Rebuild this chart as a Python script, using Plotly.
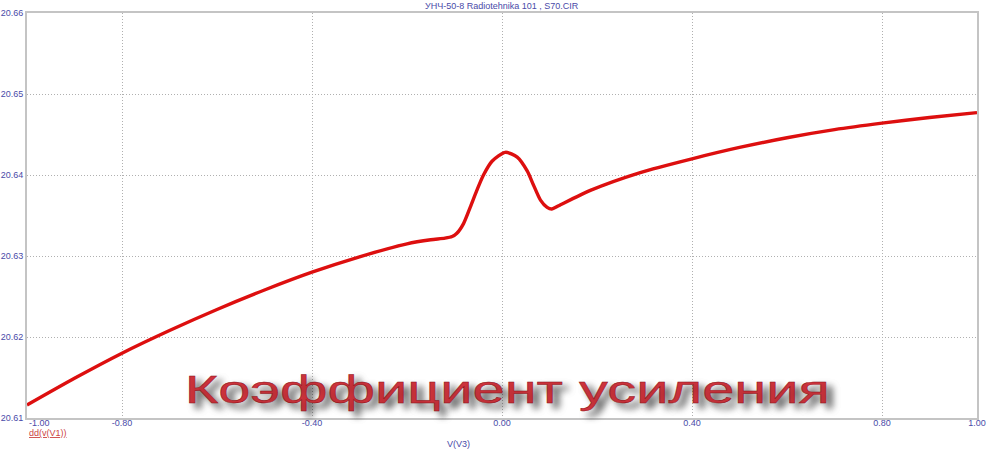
import plotly.graph_objects as go

# ---- data ----
v3 = [-1.00, -0.90, -0.80, -0.70, -0.60, -0.50, -0.40, -0.30, -0.20, -0.15,
      -0.12, -0.105, -0.095, -0.081, -0.067, -0.053, -0.039, -0.021, 0.007,
      0.032, 0.053, 0.066, 0.081, 0.095, 0.105, 0.119, 0.186, 0.291, 0.40,
      0.50, 0.60, 0.70, 0.80, 0.90, 1.00]
gain = [20.6116, 20.6149, 20.6180, 20.6208, 20.6234, 20.6258, 20.6280, 20.6299,
        20.6315, 20.6320, 20.6322, 20.6324, 20.6328, 20.6340, 20.6360, 20.6381,
        20.6400, 20.6417, 20.6428, 20.6422, 20.6405, 20.6388, 20.6369, 20.6360,
        20.6358, 20.6362, 20.6381, 20.6403, 20.6420, 20.6434, 20.6446, 20.6456,
        20.6464, 20.6471, 20.6477]

x_tickvals = [-0.80, -0.40, 0.00, 0.40, 0.80, 1.00]
y_tickvals = [20.61, 20.62, 20.63, 20.64, 20.65, 20.66]

title_text = "УНЧ-50-8 Radiotehnika 101 , S70.CIR"
x_label = "V(V3)"
y_label = "dd(v(V1))"
overlay_text = "Коэффициент усиления"

AXIS_COL = "#c4c4c4"
GRID_COL = "#b0b0b0"
TXT_COL = "#4a4aa8"
FONT = "Liberation Sans, Arial, sans-serif"

fig = go.Figure()
fig.add_trace(go.Scatter(
    x=v3, y=gain, mode="lines",
    line=dict(color="#dd0f0f", width=3.4, shape="spline", smoothing=0.7),
    hoverinfo="skip", showlegend=False,
))

fig.update_layout(
    width=1000, height=457, autosize=False,
    margin=dict(l=27, r=23, t=13, b=39),
    paper_bgcolor="white", plot_bgcolor="white",
    font=dict(family=FONT, size=9, color=TXT_COL),
    xaxis=dict(
        range=[-1, 1], tickvals=x_tickvals,
        ticktext=[f"{v:.2f}" for v in x_tickvals],
        showgrid=True, gridcolor=GRID_COL, griddash="1px,2px", gridwidth=1,
        showline=True, linecolor=AXIS_COL, linewidth=2, mirror=True,
        zeroline=False, ticks="", tickfont=dict(size=9, color=TXT_COL),
        ticklabelstandoff=-5, automargin=False, fixedrange=True,
    ),
    yaxis=dict(
        range=[20.61, 20.66], tickvals=y_tickvals,
        ticktext=[f"{v:.2f}" for v in y_tickvals],
        showgrid=True, gridcolor=GRID_COL, griddash="1px,2px", gridwidth=1,
        showline=True, linecolor=AXIS_COL, linewidth=2, mirror=True,
        zeroline=False, ticks="", tickfont=dict(size=9, color=TXT_COL),
        ticklabelstandoff=0, automargin=False, fixedrange=True,
    ),
)

fig.add_annotation(text=title_text, xref="paper", yref="paper",
                   x=0.5, y=1, yshift=7, xanchor="center", yanchor="middle",
                   showarrow=False, font=dict(size=9, color=TXT_COL))
fig.add_annotation(text="-1.00", xref="paper", yref="paper",
                   x=0, y=0, yshift=-5, xanchor="left", yanchor="middle",
                   showarrow=False, font=dict(size=9, color=TXT_COL))
fig.add_annotation(text=x_label, xref="paper", yref="paper",
                   x=0.4537, y=0, yshift=-26, xanchor="center", yanchor="middle",
                   showarrow=False, font=dict(size=9, color=TXT_COL))
fig.add_annotation(text=f"<u>{y_label}</u>", xref="paper", yref="paper",
                   x=0, y=0, yshift=-15, xanchor="left", yanchor="middle",
                   showarrow=False, font=dict(size=9, color="#cc4444"))
fig.add_annotation(text=overlay_text, xref="paper", yref="paper",
                   x=0.505, y=0, yshift=28, xanchor="center", yanchor="middle",
                   showarrow=False,
                   font=dict(family=FONT, size=38, color="#d0343d",
                             shadow="4px 5px 6px rgba(0,0,0,0.65)"))

post = """
document.documentElement.style.margin = '0';
document.documentElement.style.overflow = 'hidden';
document.body.style.margin = '0';
document.body.style.padding = '0';
document.body.style.overflow = 'hidden';
var gd = document.getElementById('{plot_id}');
var els = gd.querySelectorAll('.annotation-text');
els.forEach(function(el){
  if (el.textContent.indexOf('\\u0443\\u0441\\u0438\\u043b') >= 0) {
    el.setAttribute('textLength', '645');
    el.setAttribute('lengthAdjust', 'spacingAndGlyphs');
    el.style.stroke = '#8a1016';
    el.style.strokeWidth = '0.4px';
  }
});
"""

fig.write_html("out.html", post_script=post,
               config={"displayModeBar": False, "staticPlot": True})
